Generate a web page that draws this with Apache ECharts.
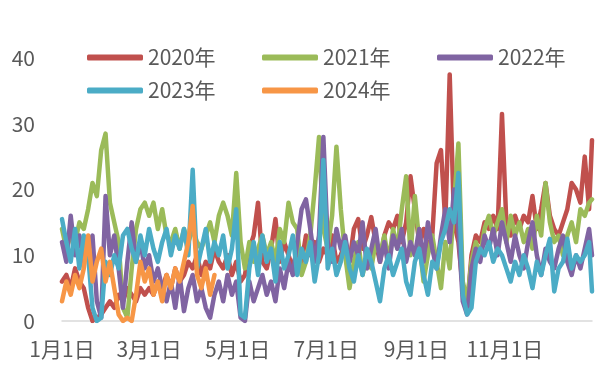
<!DOCTYPE html>
<html>
<head>
<meta charset="utf-8">
<script src="https://cdn.jsdelivr.net/npm/echarts@6/dist/echarts.min.js"></script>
<style>html,body{margin:0;padding:0;background:#fff}#c{width:598px;height:365px}</style>
</head>
<body>
<div id="c"></div>
<script>
// day-of-year positions of the sampled points
const days = Array.from({length:122},(_,i)=>i*3).concat([365]);
const tickDays = [0, 60, 121, 182, 244, 305];
const tickLabels = ['1月1日','3月1日','5月1日','7月1日','9月1日','11月1日'];
const seriesNames = ['2020年','2021年','2022年','2023年','2024年'];
const colors = ['#C0504D','#9BBB59','#8064A2','#4BACC6','#F79646'];

const v2020 = [6,7,5,8,6,5,2,0,0.5,1,
  2,3,2,4,3,5,4,3,5,4,
  5,4,6,5,7,5,8,6,7,9,
  8,10,7,9,8,11,9,8,10,7,
  9,6,7,11,13,18,9,8,11,15.5,
  9,12,10,8,11,9,13,10,12,9,
  11,10,13,9,10,12,9,14,15.5,11,
  13,15.8,12,9,13,15,14,16,12,15,
  22,17,12,14,11,13,24,26,15,37.5,
  15,12,5,2,10,13,12,15,14,16,
  14,31.5,15,13,16,14,16,15,19,14,
  17,21,16,14,13,15,17,21,20,18,
  25,17,27.5];
const v2021 = [14,11,13,12,15,14,17,21,19,26,
  28.5,18,15,12,2,0.5,8,14,17,18,
  16,18,14,17,13,12,14,11,14,12,
  14,12,11,13,15,12,16,18,16,13,
  22.5,12,8,12,9,11,13,10,12,9,
  14,12,18,15,14,7,9,13,20,28,
  14,11,16,26.5,17,10,5,9,12,7,
  10,8,12,10,13,9,14,11,17,22,
  10,19,12,6,10,13,9,5,12,8,
  18,27,6,3,9,12,10,14,16,13,
  15,17,12,16,13,15,12,14,11,16,
  13,21,15,12,13,10,13,15,12,17,
  16,18,18.5];
const v2022 = [12,9,16,10,13,9,11,13,3,0.5,
  19,10,13,8,2,9,15,9,12,8,
  10,6,8,5,3,6,2,7,1.5,5,
  7,3,5,2,0.5,4,6,3,7,4,
  6,0.5,0,6,3,5,7,4,6,3,
  8,5,9,7,12,17,18.5,14,9,13,
  28,12,9,14,11,13,9,12,10,15,
  8,11,14,9,12,8,13,11,14,9,
  12,10,14,9,15,11,8,13,17,12,
  20,14,3,1,8,11,9,13,11,14,
  10,15,12,9,13,10,8,12,15,10,
  7,11,9,8,11,13,9,7,10,8,
  11,14,10];
const v2023 = [15.5,12,9,14,8,13,10,2,0,0.5,
  9,7,10,8,13,14,11,9,13,10,
  14,11,9,12,14,10,13,11,14,10,
  23,8,11,14,9,12,10,13,8,11,
  17,1,0.5,8,12,7,13,9,11,6,
  12,8,10,13,7,11,9,12,6,10,
  24.5,8,11,7,9,12,8,6,10,7,
  11,9,6,3,8,10,7,9,11,6,
  4,9,11,7,4,9,8,12,14,17,
  15,22.5,4,1,2,9,11,10,12,9,
  11,10,8,6,9,7,10,8,5,9,
  7,10,12.5,4.5,8,9,12.5,8,10,9,
  10,12,4.5];
const v2024 = [3,6,4,7,5,8,13,6,9,11,
  6,9,5,1,0,0.5,0,4,9,6,
  8,4,6,3,7,5,8,6,9,12,
  17.5,7,5,8,4,7];

const values = [v2020, v2021, v2022, v2023, v2024];
const FONT = '"Noto Sans CJK SC", "Noto Sans", sans-serif';
const TXT = '#595959';
const FS = 21;

const chart = echarts.init(document.getElementById('c'), null, {renderer:'canvas'});

const legendPos = [[87,47],[262,47],[437,47],[87,80],[262,80]];
const legends = seriesNames.map((n,k)=>({
  data:[n], left:legendPos[k][0], top:legendPos[k][1], padding:0,
  icon:'roundRect', itemWidth:56, itemHeight:6, itemGap:0,
  textStyle:{fontSize:FS, color:TXT, fontFamily:FONT}
}));

chart.setOption({
  animation:false,
  color: colors,
  legend: legends,
  grid:{left:62, right:6, top:58, bottom:44},
  xAxis:{
    type:'value', min:0, max:365,
    axisLine:{show:true, lineStyle:{color:'#D9D9D9', width:1.5}},
    axisTick:{show:false},
    splitLine:{show:false},
    axisLabel:{
      customValues: tickDays,
      formatter: v => tickLabels[tickDays.indexOf(v)] || '',
      fontSize:FS, color:TXT, fontFamily:FONT, margin:18
    }
  },
  yAxis:{
    type:'value', min:0, max:40, interval:10,
    axisLine:{show:false}, axisTick:{show:false}, splitLine:{show:false},
    axisLabel:{fontSize:FS, color:TXT, fontFamily:FONT, margin:27}
  },
  series: seriesNames.map((n,k)=>({
    name:n, type:'line', symbol:'none', showSymbol:false,
    data: values[k].map((v,i)=>[days[i], v]),
    lineStyle:{width:4.5, color:colors[k], join:'round', cap:'round'},
    itemStyle:{color:colors[k]}
  }))
});
</script>
</body>
</html>
